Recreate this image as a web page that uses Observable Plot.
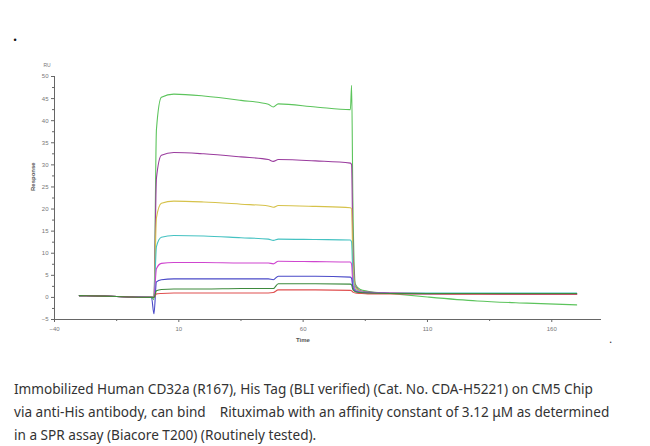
<!DOCTYPE html>
<html>
<head>
<meta charset="utf-8">
<script src="https://cdn.jsdelivr.net/npm/d3@7"></script>
<script src="https://cdn.jsdelivr.net/npm/@observablehq/plot@0.6"></script>
<style>
  body { margin: 0; background: #fff; width: 650px; height: 446px; overflow: hidden; }
  #cap { font-family: "Noto Sans", "Liberation Sans", Arial, sans-serif; font-size: 13.6px; color: #333; line-height: 23px; padding: 27px 0 0 14px; white-space: nowrap; }
</style>
</head>
<body>
<div id="chart"></div>
<div id="cap">Immobilized Human CD32a (R167), His Tag (BLI verified) (Cat. No. CDA-H5221) on CM5 Chip<br>via anti-His antibody, can bind &nbsp;&nbsp; Rituximab with an affinity constant of 3.12 μM as determined<br>in a SPR assay (Biacore T200) (Routinely tested).</div>
<script>
// time points (s)
const times = [-30, -20, -10, -1, 0, 1, 3, 8, 20, 35, 46, 48, 50, 65, 79, 79.5, 80, 81, 83, 86, 95, 110, 130, 150, 170];
// responses (RU) per concentration curve
const greenTop = [0.4, 0.3, 0.1, 0.0, -0.5, 38, 45.3, 46.0, 45.6, 44.6, 43.7, 43.1, 43.8, 43.1, 42.5, 48, 22, 3, 1.8, 1.4, 0.9, 0.1, -0.8, -1.3, -1.7];
const purple   = [0.4, 0.3, 0.1, 0.0, 0.0, 27, 32.2, 32.8, 32.5, 31.8, 31.2, 30.8, 31.2, 30.9, 30.4, 30.0, 12, 2.5, 1.5, 1.2, 1.0, 0.9, 0.9, 0.8, 0.8];
const yellow   = [0.4, 0.3, 0.1, 0.0, 0.0, 18, 21.3, 21.8, 21.6, 21.1, 20.7, 20.4, 20.8, 20.6, 20.3, 20.0, 8, 2.2, 1.4, 1.1, 1.0, 0.9, 0.9, 0.9, 0.9];
const cyan     = [0.4, 0.3, 0.1, 0.0, 0.0, 11.5, 13.6, 14.0, 13.9, 13.5, 13.2, 12.9, 13.2, 13.1, 13.0, 12.5, 5, 1.8, 1.3, 1.1, 1.0, 1.0, 1.0, 1.0, 1.0];
const magenta  = [0.4, 0.3, 0.1, 0.0, 0.0, 6.5, 7.7, 7.9, 7.9, 7.8, 7.8, 7.6, 8.2, 8.1, 8.0, 7.5, 3, 1.6, 1.2, 1.1, 1.0, 0.9, 0.9, 0.9, 0.9];
const blue     = [0.4, 0.3, 0.1, 0.0, -3.7, 3.5, 4.0, 4.2, 4.2, 4.2, 4.2, 4.0, 4.8, 4.8, 4.6, 4.3, 2.2, 1.4, 1.1, 1.0, 0.9, 0.8, 0.8, 0.7, 0.7];
const darkGreen= [0.4, 0.3, 0.1, 0.0, 0.0, 1.5, 1.8, 1.9, 1.9, 2.0, 2.0, 2.0, 3.1, 3.1, 3.0, 2.8, 1.8, 1.3, 1.1, 1.0, 0.9, 0.9, 0.9, 0.9, 0.9];
const red      = [0.4, 0.3, 0.1, 0.0, 0.0, 0.8, 0.9, 1.0, 1.0, 1.0, 1.0, 1.1, 1.7, 1.7, 1.6, 1.5, 1.2, 1.0, 0.9, 0.8, 0.8, 0.8, 0.7, 0.7, 0.7];

const seriesNames = ["greenTop", "purple", "yellow", "cyan", "magenta", "blue", "red", "darkGreen"];
const seriesValues = [greenTop, purple, yellow, cyan, magenta, blue, red, darkGreen];
const seriesColors = ["#5cc45c", "#9a3c9e", "#d6c24a", "#45c2c2", "#cf45cf", "#4a4ac8", "#e05050", "#3d8a3d"];

const xTicks = [-40, 10, 60, 110, 160];
const xMinor = [-15, 35, 85, 135];
const yTicks = [-5, 0, 5, 10, 15, 20, 25, 30, 35, 40, 45, 50];
const yMinor = [-2.5, 2.5, 7.5, 12.5, 17.5, 22.5, 27.5, 32.5, 37.5, 42.5, 47.5];

const rows = [];
seriesNames.forEach((name, i) => {
  times.forEach((t, j) => rows.push({series: name, t, v: seriesValues[i][j]}));
});

const axisColor = "#666";
const chart = Plot.plot({
  width: 650,
  height: 350,
  marginLeft: 54,
  marginRight: 49,
  marginTop: 76,
  marginBottom: 31,
  style: {fontFamily: "Liberation Sans, Arial, sans-serif", background: "#fff"},
  x: {domain: [-40, 180], axis: null, label: null},
  y: {domain: [-5, 50], axis: null, label: null},
  color: {domain: seriesNames, range: seriesColors},
  marks: [
    Plot.ruleX([-40], {stroke: axisColor, strokeWidth: 1}),
    Plot.ruleY([-5], {stroke: axisColor, strokeWidth: 1}),
    Plot.axisY({ticks: yTicks, label: null, tickSize: 3, fontSize: 6, fill: "#777", stroke: axisColor, tickPadding: 3}),
    Plot.axisY({ticks: yMinor, label: null, tickSize: 2, tickFormat: () => "", stroke: axisColor}),
    Plot.axisX({ticks: xTicks, label: null, tickSize: 3, fontSize: 6, fill: "#777", stroke: axisColor, tickPadding: 4}),
    Plot.axisX({ticks: xMinor, label: null, tickSize: 2, tickFormat: () => "", stroke: axisColor}),
    Plot.line(rows, {x: "t", y: "v", z: "series", stroke: "series", strokeWidth: 1.1, curve: "monotone-x"}),
    Plot.text(["RU"], {frameAnchor: "top-left", dx: -11, dy: -13, fontSize: 5, fill: "#777"}),
    Plot.text(["Response"], {frameAnchor: "left", rotate: -90, dx: -21, dy: -7, fontSize: 6, fontWeight: "bold", fill: "#555"}),
    Plot.text(["Time"], {frameAnchor: "bottom", dx: -25, dy: 22, fontSize: 6, fontWeight: "bold", fill: "#555"}),
    Plot.text(["•"], {frameAnchor: "top-left", dx: -41, dy: -40, fontSize: 9, fill: "#111"}),
    Plot.text(["•"], {frameAnchor: "bottom-right", dx: 10, dy: 24, fontSize: 5, fill: "#333"})
  ]
});
document.getElementById("chart").appendChild(chart);
</script>
</body>
</html>
